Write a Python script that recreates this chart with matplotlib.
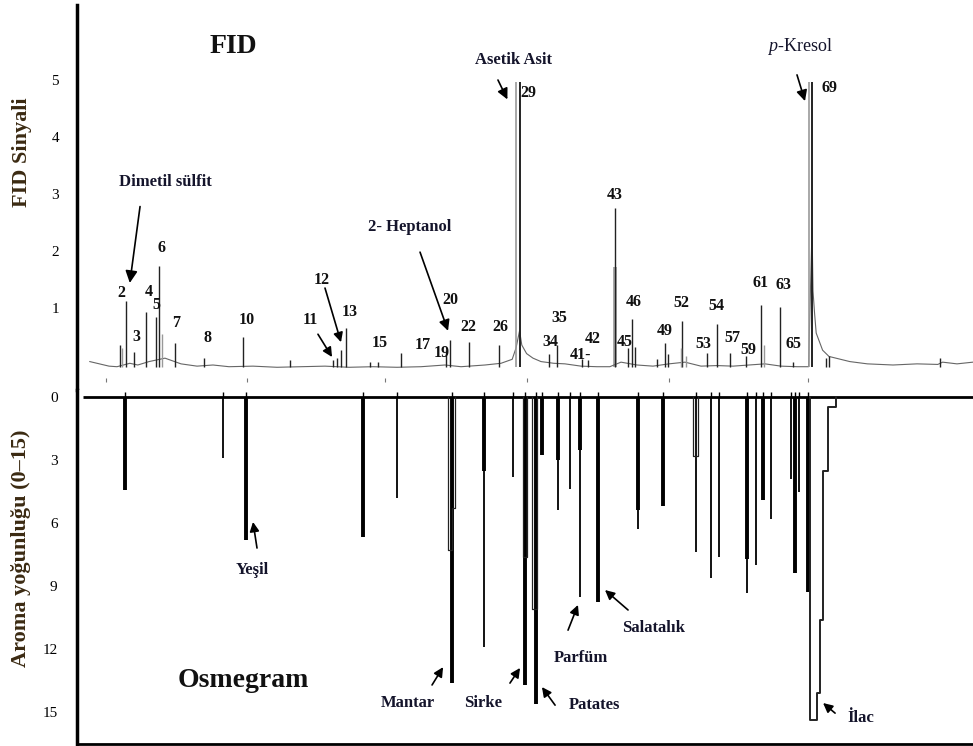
import matplotlib.pyplot as plt

plt.rcParams['font.family'] = ['Liberation Serif', 'DejaVu Serif']
plt.rcParams['mathtext.fontset'] = 'custom'
plt.rcParams['mathtext.it'] = 'Liberation Serif:italic'
plt.rcParams['mathtext.rm'] = 'Liberation Serif'

# ---- FID chromatogram (retention time in min, signal) ----
fid_rt = [2.69, 3.06, 3.56, 4.29, 4.94, 5.14, 6.13, 7.96, 10.39, 13.31,
          16.0, 16.25, 16.48, 16.81, 18.31, 18.81, 20.25, 23.06, 23.31, 24.52,
          26.36, 29.5, 30.0, 31.56, 31.94, 33.63, 34.44, 34.66, 34.88, 36.25,
          36.75, 36.94, 37.84, 39.36, 39.98, 40.81, 41.79, 42.77, 43.94, 44.75,
          46.81, 47.0, 53.94]
fid_h = [0.35, 1.12, 0.22, 0.93, 0.84, 1.74, 0.39, 0.12, 0.49, 0.08,
         0.09, 0.12, 0.26, 0.65, 0.06, 0.05, 0.21, 0.26, 0.44, 0.41,
         0.35, 0.19, 0.35, 0.1, 0.08, 2.75, 0.3, 0.8, 0.32, 0.1,
         0.38, 0.2, 0.78, 0.21, 0.72, 0.21, 0.15, 1.05, 1.02, 0.06,
         0.12, 0.15, 0.12]
# grey shoulder peaks
fid_sh_rt = [2.84, 5.31, 37.75, 38.06, 42.94]
fid_sh_h = [0.3, 0.55, 0.3, 0.15, 0.35]
# off-scale peaks (acetic acid, p-cresol), drawn as narrow outlines
big_x0 = [27.44, 45.72]
big_x1 = [27.66, 45.94]
big_h = [4.96, 4.96]
# broad part of peak 43
band_rt = [33.63]
band_h = [1.75]
# baseline of the trace
base_rt = [0.8, 1.4, 2.0, 2.5, 3.3, 3.8, 4.5, 5.5, 6.5, 7.5, 8.5, 9.5, 11.0,
           12.5, 14.0, 15.5, 17.0, 18.5, 20.0, 21.5, 23.0, 24.0, 25.5, 26.5,
           27.2, 27.44, 27.66, 27.8, 28.1, 28.5, 29.0, 29.8, 30.5, 31.5, 32.5,
           33.3, 34.0, 35.0, 36.0, 37.0, 38.0, 39.0, 40.0, 41.0, 42.0, 43.0,
           44.0, 45.0, 45.6, 45.72, 45.94, 46.0, 46.1, 46.2, 46.6, 47.0, 48.3,
           49.4, 51.0, 52.5, 53.8, 54.1, 55.0, 56.0]
base_h = [0.06, 0.02, -0.02, -0.03, 0.03, 0.0, 0.06, 0.12, 0.02, -0.02, 0.0,
          -0.03, -0.02, -0.04, -0.03, -0.02, -0.04, -0.03, -0.04, -0.03, 0.0,
          -0.03, 0.0, 0.03, 0.1, 0.3, 0.6, 0.35, 0.2, 0.12, 0.06, 0.03, 0.02,
          -0.02, -0.03, -0.03, 0.05, 0.0, -0.02, 0.02, 0.05, -0.02, -0.01,
          -0.02, 0.0, 0.02, -0.02, -0.03, -0.03, -0.03, 2.4, 1.3, 0.9, 0.56,
          0.26, 0.15, 0.06, 0.02, 0.0, 0.02, 0.01, 0.05, 0.02, 0.05]
mark_rt = [1.81, 10.63, 19.25, 28.13, 37.0, 45.69]

# ---- Osmegram (aroma intensity 0-15) ----
osm_rt = [3.0, 9.11, 10.56, 17.89, 20.02, 23.42, 25.46, 27.28, 28.0, 28.69,
          29.04, 30.08, 30.81, 31.44, 32.56, 35.08, 36.6, 38.69, 39.61, 40.14,
          41.86, 42.44, 42.86, 43.38, 44.61, 44.88, 45.13, 45.69]
osm_int = [4.43, 2.9, 6.8, 6.65, 4.8, 13.6, 11.9, 3.8, 13.7, 14.6,
           2.76, 5.4, 4.4, 9.5, 9.75, 6.3, 5.2, 7.4, 8.6, 7.6,
           9.35, 8.0, 4.9, 5.8, 3.9, 8.4, 4.5, 9.3]
osm_core = [4.43, 0, 6.8, 6.65, 0, 13.6, 3.5, 0, 13.7, 14.6,
            2.76, 3.0, 0, 2.5, 9.75, 5.4, 5.2, 0, 0, 0,
            7.7, 0, 4.9, 0, 0, 8.4, 0, 9.3]
# outlined (broad) osmegram peaks
box_x0 = [23.19, 27.86, 28.44, 38.5]
box_x1 = [23.63, 28.14, 28.75, 38.81]
box_xc = [23.42, 28.0, 28.69, 38.69]
box_d0 = [7.3, 7.6, 10.1, 2.8]
box_d1 = [5.3, 7.6, 10.1, 2.8]
# drug-like (p-cresol) stepped peak
ilac_left = 45.81
ilac_right = [47.44, 46.96, 46.64, 46.44, 46.27]
ilac_depth = [0.5, 3.5, 10.6, 14.1, 15.4]

fig = plt.figure(figsize=(9.73, 7.46), dpi=100)
ax1 = fig.add_axes([77/973, 1-390/746, 1-77/973, 385/746])
ax2 = fig.add_axes([77/973, 2/746, 1-77/973, 354/746])

lab_c = '#14142b'
ylab_c = '#3b2a12'

# --- top panel ---
ax1.plot(base_rt, base_h, color='#666666', lw=0.8)
ax1.vlines(fid_rt, -0.03, fid_h, color='#222222', lw=1.0)
ax1.vlines(fid_sh_rt, -0.03, fid_sh_h, color='#999999', lw=1.0)
ax1.bar(band_rt, band_h, width=0.25, color='#aaaaaa', bottom=-0.03)
for x0, x1, h in zip(big_x0, big_x1, big_h):
    ax1.vlines(x0, -0.03, h, color='#999999', lw=1.2)
    ax1.vlines(x1, -0.03, h, color='#222222', lw=1.4)
ax1.vlines(mark_rt, -0.3, -0.22, color='#777777', lw=0.8)

ax1.set_xlim(0, 56)
ax1.set_ylim(-0.4386, 6.316)
ax1.set_xticks([])
ax1.set_yticks([1, 2, 3, 4, 5])
ax1.tick_params(axis='y', length=0, pad=13, labelsize=11)
for s in ['top', 'right', 'bottom']:
    ax1.spines[s].set_visible(False)
ax1.spines['left'].set_linewidth(2.5)

peak_labels = [("2", 2.75, 1.26), ("3", 3.69, 0.49), ("4", 4.5, 1.28),
               ("5", 4.94, 1.05), ("6", 5.31, 2.05), ("7", 6.19, 0.74),
               ("8", 8.13, 0.47), ("10", 10.63, 0.79), ("11", 14.56, 0.79),
               ("12", 15.31, 1.49), ("13", 17.06, 0.93), ("15", 18.94, 0.39),
               ("17", 21.63, 0.35), ("19", 22.81, 0.21), ("20", 23.31, 1.14),
               ("22", 24.44, 0.67), ("26", 26.44, 0.67), ("29", 28.19, 4.77),
               ("34", 29.56, 0.4), ("35", 30.13, 0.82), ("41-", 31.44, 0.18),
               ("42", 32.25, 0.46), ("43", 33.63, 2.98), ("45", 34.25, 0.4),
               ("46", 34.81, 1.1), ("49", 36.75, 0.6), ("52", 37.75, 1.09),
               ("53", 39.13, 0.37), ("54", 39.94, 1.04), ("57", 40.94, 0.47),
               ("59", 41.94, 0.26), ("61", 42.75, 1.44), ("63", 44.13, 1.4),
               ("65", 44.75, 0.37), ("69", 47.06, 4.86)]
for t, x, y in peak_labels:
    ax1.text(x, y, t, ha='center', va='center', fontsize=11.5,
             fontweight='bold', color='#111111')


def arrow(ax, head, tail, ms=14):
    ax.annotate('', xy=head, xytext=tail,
                arrowprops=dict(arrowstyle='-|>', color='black', lw=1.2,
                                mutation_scale=ms, shrinkA=0, shrinkB=0))


ax1.text(9.75, 5.58, 'FID', ha='center', va='center', fontsize=20,
         fontweight='bold', color='#111111')
ax1.text(5.5, 3.21, 'Dimetil sülfit', ha='center', va='center', fontsize=12,
         fontweight='bold', color=lab_c)
arrow(ax1, (3.3, 1.44), (3.94, 2.78), ms=18)
ax1.text(20.81, 2.42, '2- Heptanol', ha='center', va='center', fontsize=12,
         fontweight='bold', color=lab_c)
arrow(ax1, (23.19, 0.6), (21.44, 1.98), ms=16)
ax1.text(27.31, 5.35, 'Asetik Asit', ha='center', va='center', fontsize=12,
         fontweight='bold', color=lab_c)
arrow(ax1, (26.9, 4.66), (26.31, 5.0), ms=16)
ax1.text(45.19, 5.58, '$p$-Kresol', ha='center', va='center', fontsize=13,
         color=lab_c)
arrow(ax1, (45.5, 4.63), (45.0, 5.09), ms=16)
arrow(ax1, (15.94, 0.14), (15.06, 0.54), ms=14)
arrow(ax1, (16.5, 0.4), (15.5, 1.35), ms=14)

# --- bottom panel ---
ax2.hlines(0, 0.35, 56, color='black', lw=2)
ax2.vlines(osm_rt, -0.22, 0, color='black', lw=1)
ax2.vlines(osm_rt, 0, osm_int, color='black', lw=1.3)
core_x = [x for x, c in zip(osm_rt, osm_core) if c > 0]
core_d = [c for c in osm_core if c > 0]
ax2.vlines(core_x, 0, core_d, color='black', lw=2.8)
for x0, x1, xc, d0, d1 in zip(box_x0, box_x1, box_xc, box_d0, box_d1):
    ax2.plot([x0, x0, xc, xc, x1, x1], [0, d0, d0, d1, d1, 0],
             color='#222222', lw=0.9)
ix = [ilac_left, ilac_left]
iy = [0, ilac_depth[-1]]
for xr, d_prev, d in zip(ilac_right[::-1], ilac_depth[::-1],
                         ilac_depth[::-1][1:] + [0]):
    ix += [xr, xr]
    iy += [d_prev, d]
ax2.plot(ix, iy, color='#222222', lw=1.4)

ax2.set_xlim(0, 56)
ax2.set_ylim(16.52, -0.333)
ax2.set_xticks([])
ax2.set_yticks([0, 3, 6, 9, 12, 15])
ax2.tick_params(axis='y', length=0, pad=14, labelsize=11)
for s in ['top', 'right']:
    ax2.spines[s].set_visible(False)
ax2.spines['left'].set_linewidth(2.5)
ax2.spines['bottom'].set_linewidth(2)

ax2.text(10.38, 13.48, 'Osmegram', ha='center', va='center', fontsize=20,
         fontweight='bold', color='#111111')
osm_labels = [('Yeşil', 10.94, 8.24, (11.0, 5.95), (11.25, 7.19)),
              ('Mantar', 20.69, 14.57, (22.88, 12.86), (22.19, 13.71)),
              ('Sirke', 25.38, 14.57, (27.69, 12.9), (27.06, 13.62)),
              ('Patates', 32.31, 14.67, (29.06, 13.81), (29.88, 14.67)),
              ('Parfüm', 31.5, 12.43, (31.31, 9.9), (30.69, 11.1)),
              ('Salatalık', 36.06, 11.0, (33.0, 9.19), (34.44, 10.14)),
              ('İlac', 49.0, 15.29, (46.63, 14.57), (47.38, 15.05))]
for t, x, y, head, tail in osm_labels:
    ax2.text(x, y, t, ha='center', va='center', fontsize=12,
             fontweight='bold', color=lab_c)
    arrow(ax2, head, tail, ms=14)

fig.text(22/973, 1-152/746, 'FID Sinyali', rotation=90, ha='center',
         va='center', fontsize=16, fontweight='bold', color=ylab_c)
fig.text(21/973, 1-548/746, 'Aroma yoğunluğu (0–15)', rotation=90,
         ha='center', va='center', fontsize=16, fontweight='bold',
         color=ylab_c)

fig.savefig('out.png', dpi=100)
